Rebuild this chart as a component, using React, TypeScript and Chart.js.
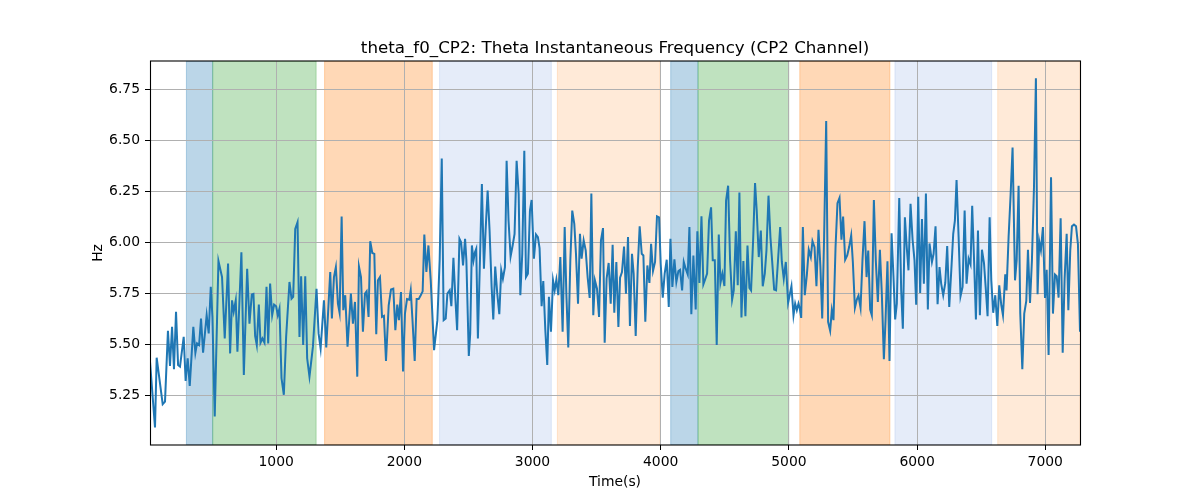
import { useEffect, useRef } from 'react'
import { Chart, registerables } from 'chart.js'

Chart.register(...registerables)

// sample times (s) and instantaneous theta frequency (Hz)
const times = [
  16, 55, 68, 115, 133, 156, 172, 188, 203, 219, 235, 250, 279, 294, 310, 326, 354, 370, 383, 399,
  414, 430, 458, 474, 490, 503, 521, 550, 578, 599, 625, 641, 656, 669, 685, 698, 729, 748, 774, 792,
  810, 823, 836, 849, 865, 878, 893, 909, 925, 938, 953, 969, 984, 1000, 1013, 1026, 1042, 1060, 1078, 1104,
  1120, 1133, 1149, 1167, 1182, 1195, 1211, 1227, 1242, 1260,
  1287, 1315, 1331, 1347, 1373, 1391, 1422, 1435, 1451, 1466, 1482, 1495, 1511, 1524, 1539, 1557, 1583, 1599, 1615, 1633,
  1646, 1662, 1677, 1693, 1706, 1721, 1734, 1750, 1766, 1781, 1794, 1810, 1826, 1841, 1857, 1878, 1896, 1914, 1930, 1945,
  1958, 1974, 1990, 2005, 2021, 2039, 2050, 2063, 2081, 2096, 2112, 2128, 2143, 2156, 2172, 2188, 2206, 2232, 2258, 2276,
  2292, 2307, 2323, 2336, 2354, 2367, 2383, 2399, 2412, 2430, 2443, 2458, 2474, 2484, 2503,
  2514, 2527, 2540, 2551, 2561, 2574, 2590, 2605, 2621, 2634, 2650, 2665, 2681, 2694, 2709, 2725, 2741, 2756, 2769, 2785,
  2798, 2813, 2829, 2845, 2860, 2876, 2892, 2905, 2920, 2936, 2949, 2964, 2980, 2993, 3011, 3027, 3042, 3055, 3071, 3084,
  3100, 3115, 3128, 3144, 3160, 3173, 3186, 3201, 3217, 3235, 3251, 3264, 3279, 3295, 3310, 3326, 3339, 3355, 3370, 3383,
  3399, 3415, 3430, 3446, 3459, 3474, 3487, 3503, 3519, 3534, 3550, 3563, 3578, 3594, 3610, 3625, 3638, 3654, 3670, 3683,
  3698, 3714, 3729, 3745, 3760,
  3776, 3789, 3805, 3821, 3836, 3852, 3865, 3880, 3896, 3912, 3925, 3940, 3956, 3971, 3987, 4000, 4016, 4031, 4047, 4063,
  4076, 4091, 4107, 4122, 4138, 4151, 4167, 4180, 4195, 4211, 4224, 4239, 4255, 4273, 4286, 4302, 4318, 4333, 4346, 4362,
  4377, 4393, 4406, 4422, 4437, 4453, 4466, 4481, 4497, 4510, 4526, 4541, 4557, 4570, 4586, 4601, 4614, 4630, 4645, 4661,
  4677, 4692, 4705, 4721, 4736, 4749, 4765, 4781, 4796, 4812, 4825, 4841, 4856, 4869, 4885, 4900, 4916, 4932, 4945, 4960,
  4976, 4994,
  5020, 5036, 5049, 5062, 5075, 5085, 5096, 5109, 5124, 5140, 5155, 5171, 5184, 5200, 5215, 5231, 5246, 5260, 5275, 5291,
  5306, 5322, 5335, 5348, 5364, 5379, 5395, 5410, 5423, 5439, 5455, 5470, 5486, 5499, 5515, 5530, 5543, 5559, 5574, 5590,
  5606, 5619, 5634, 5647, 5663, 5678, 5694, 5710, 5725, 5741, 5754, 5769, 5785, 5801, 5816, 5829, 5842, 5861, 5876, 5889,
  5905, 5920, 5933, 5949, 5965, 5980, 5993, 6009, 6024, 6038, 6053, 6069, 6084, 6097,
  6116, 6129, 6144, 6160, 6175, 6188, 6204, 6220, 6235, 6251, 6269, 6282, 6295, 6308, 6324, 6339, 6355, 6371, 6386, 6402,
  6417, 6430, 6446, 6459, 6475, 6490, 6506, 6522, 6535, 6550, 6566, 6579, 6594, 6610, 6626, 6641, 6657, 6670, 6688, 6698,
  6714, 6730, 6745, 6764, 6777, 6792, 6805, 6821, 6836, 6852, 6865, 6881, 6896, 6912, 6927, 6940, 6953, 6966, 6982, 6998,
  7011, 7026, 7045, 7060, 7076, 7089, 7104, 7120, 7136, 7151, 7167, 7180, 7195, 7208, 7224, 7240, 7255, 7271,
]

const values = [
  5.415, 5.093, 5.435, 5.207, 5.22, 5.567, 5.394, 5.586, 5.378, 5.66, 5.399, 5.391, 5.537, 5.321, 5.432, 5.297, 5.586, 5.459, 5.505, 5.497,
  5.627, 5.459, 5.643, 5.554, 5.782, 5.635, 5.147, 5.909, 5.83, 5.529, 5.896, 5.456, 5.716, 5.66, 5.716, 5.464, 5.952, 5.35, 5.871, 5.602,
  5.745, 5.748, 5.542, 5.497, 5.695, 5.508, 5.529, 5.508, 5.782, 5.505, 5.798, 5.643, 5.695, 5.687, 5.643, 5.676, 5.334, 5.253, 5.537, 5.806,
  5.724, 5.733, 6.066, 6.099, 5.537, 5.834, 5.497, 5.834, 5.432, 5.342,
  5.489, 5.773, 5.554, 5.48, 5.716, 5.485, 5.855, 5.627, 5.83, 5.879, 5.7, 5.655, 6.127, 5.668, 5.741, 5.489, 5.749, 5.602, 5.708, 5.342,
  5.882, 5.83, 5.562, 5.749, 5.76, 5.635, 6.006, 5.948, 5.944, 5.55, 5.814, 5.83, 5.635, 5.64, 5.419, 5.692, 5.769, 5.773, 5.57, 5.695,
  5.619, 5.757, 5.367, 5.651, 5.722, 5.719, 5.765, 5.627, 5.419, 5.722, 5.722, 5.741, 5.76, 6.039, 5.855, 5.985, 5.814, 5.472, 5.619, 5.92,
  6.411, 5.619, 5.627, 5.749, 5.765, 5.687, 5.925, 5.716, 5.57, 6.018, 6.001, 5.887, 6.018, 5.913, 5.443,
  5.554, 5.985, 5.912, 5.952, 5.969, 5.529, 5.912, 6.286, 5.871, 6.058, 6.254, 6.058, 5.782, 5.622, 5.882, 5.749, 5.648, 5.863, 5.822, 5.879,
  6.4, 6.107, 5.931, 5.985, 6.042, 6.4, 6.237, 5.741, 5.944, 6.449, 5.83, 5.847, 6.156, 6.208, 5.92, 6.039, 6.026, 5.972, 5.687, 5.811,
  5.57, 5.399, 5.733, 5.562, 5.814, 5.765, 5.817, 5.741, 5.928, 5.562, 6.075, 5.749, 5.485, 5.912, 6.156, 6.091, 5.944, 5.7, 6.042, 5.92,
  6.01, 5.961, 5.83, 5.728, 6.24, 5.643, 5.814, 5.773, 5.635, 6.01, 6.07, 5.508, 5.822, 5.899, 5.7, 5.988, 5.655, 5.904, 5.586, 5.827,
  5.855, 5.98, 5.749, 6.026, 5.59,
  5.944, 5.847, 5.541, 5.879, 6.079, 5.944, 5.936, 5.611, 5.887, 5.801, 5.993, 5.86, 5.904, 6.128, 6.123, 5.895, 5.729, 5.847, 5.915, 5.684,
  6.018, 5.782, 5.917, 5.806, 5.86, 5.866, 5.765, 5.904, 5.871, 5.843, 6.075, 5.648, 5.936, 5.671, 6.055, 5.801, 6.128, 5.794, 5.817, 5.847,
  6.107, 6.172, 5.912, 5.912, 5.497, 6.039, 5.801, 5.847, 5.786, 6.205, 6.278, 5.915, 5.719, 5.765, 6.055, 5.79, 6.245, 5.632, 5.909, 5.638,
  5.985, 5.777, 5.765, 6.01, 6.291, 6.156, 5.928, 6.058, 5.785, 5.847, 5.96, 6.229, 6.026, 5.912, 5.769, 5.765, 5.92, 6.075, 5.904, 5.822,
  5.904, 5.704,
  5.785, 5.643, 5.7, 5.668, 5.7, 5.676, 5.63, 6.075, 5.741, 5.839, 5.964, 5.928, 6.006, 5.977, 5.785, 6.062, 5.879, 5.627, 6.029, 6.595,
  5.611, 5.567, 5.668, 5.619, 5.977, 6.192, 6.218, 6.013, 6.127, 5.915, 5.936, 5.977, 6.034, 5.904, 5.679, 5.72, 5.739, 5.679, 5.912, 6.104,
  5.83, 5.96, 5.671, 5.643, 6.208, 5.912, 5.708, 5.964, 5.749, 5.427, 5.619, 5.907, 5.419, 6.045, 5.83, 5.622, 5.7, 6.218, 5.765, 5.577,
  6.123, 5.971, 5.863, 6.189, 6.013, 5.912, 5.695, 6.224, 5.752, 6.115, 5.798, 6.24, 5.671, 5.995,
  5.904, 5.944, 6.079, 5.697, 5.879, 5.798, 5.741, 5.801, 5.982, 5.684, 5.887, 6.042, 6.107, 6.306, 6.026, 5.736, 5.782, 6.156, 5.798, 5.92,
  5.892, 6.18, 5.887, 5.622, 6.058, 5.643, 5.964, 5.899, 5.782, 5.638, 6.123, 5.814, 5.655, 5.741, 5.591, 5.79, 5.692, 5.643, 5.843, 5.765,
  6.026, 6.237, 6.465, 5.814, 5.912, 6.278, 5.651, 5.378, 5.651, 5.713, 5.964, 5.703, 5.912, 6.27, 6.804, 5.746, 6.005, 5.961, 6.075, 5.728,
  5.866, 5.448, 6.319, 5.651, 5.842, 5.834, 5.729, 6.118, 5.459, 5.822, 6.042, 5.668, 5.961, 6.079, 6.087, 6.079, 5.99, 5.562,
]

// shaded epochs (start / end in seconds)
const bandStart = [300, 505, 1378, 2275, 3194, 4078, 4291, 5085, 5827, 6629]
const bandEnd = [505, 1312, 2218, 3147, 3994, 4291, 4999, 5788, 6582, 7272]
const bandColors = [
  'rgba(31,119,180,0.3)',
  'rgba(44,160,44,0.3)',
  'rgba(255,127,14,0.3)',
  'rgba(70,120,210,0.14)',
  'rgba(255,127,14,0.16)',
  'rgba(31,119,180,0.3)',
  'rgba(44,160,44,0.3)',
  'rgba(255,127,14,0.3)',
  'rgba(70,120,210,0.14)',
  'rgba(255,127,14,0.16)',
]

const xTicks = [1000, 2000, 3000, 4000, 5000, 6000, 7000]
const yTicks = [5.25, 5.5, 5.75, 6.0, 6.25, 6.5, 6.75]

const TITLE = 'theta_f0_CP2: Theta Instantaneous Frequency (CP2 Channel)'
const FONT = '"DejaVu Sans", sans-serif'

const decor = {
  id: 'decor',
  beforeDraw(chart: any) {
    const { ctx, chartArea: a, scales } = chart
    const x = scales.x
    ctx.save()
    ctx.beginPath()
    ctx.rect(a.left, a.top, a.right - a.left, a.bottom - a.top)
    ctx.clip()
    bandStart.forEach((s, i) => {
      const x0 = x.getPixelForValue(s)
      const x1 = x.getPixelForValue(bandEnd[i])
      ctx.fillStyle = bandColors[i]
      ctx.fillRect(x0, a.top, x1 - x0, a.bottom - a.top)
      ctx.strokeStyle = bandColors[i]
      ctx.lineWidth = 1
      ctx.strokeRect(x0, a.top, x1 - x0, a.bottom - a.top)
    })
    ctx.restore()
  },
  afterDraw(chart: any) {
    const { ctx, chartArea: a } = chart
    ctx.save()
    ctx.strokeStyle = '#000'
    ctx.lineWidth = 1.1
    ctx.strokeRect(a.left + 0.5, a.top, a.right - a.left, a.bottom - a.top)
    ctx.fillStyle = '#000'
    ctx.textAlign = 'center'
    ctx.textBaseline = 'alphabetic'
    ctx.font = `16.7px ${FONT}`
    ctx.fillText(TITLE, (a.left + a.right) / 2, a.top - 8)
    ctx.font = `13.9px ${FONT}`
    ctx.fillText('Time(s)', (a.left + a.right) / 2, 486)
    ctx.translate(102, (a.top + a.bottom) / 2)
    ctx.rotate(-Math.PI / 2)
    ctx.fillText('Hz', 0, 0)
    ctx.restore()
  },
}

const ThetaChart = () => {
  const canvasRef = useRef<HTMLCanvasElement | null>(null)

  useEffect(() => {
    if (!canvasRef.current) return
    const points = times.map((t, i) => ({ x: t, y: values[i] }))
    const tickFont = { family: FONT, size: 13.9 }
    const chart = new Chart(canvasRef.current, {
      type: 'line',
      data: {
        datasets: [
          {
            data: points,
            borderColor: '#1f77b4',
            borderWidth: 2,
            pointRadius: 0,
            tension: 0,
            fill: false,
          },
        ],
      },
      plugins: [decor],
      options: {
        animation: false,
        responsive: false,
        layout: { padding: { left: 0, right: 120, top: 61, bottom: 0 } },
        plugins: {
          legend: { display: false },
          tooltip: { enabled: false },
        },
        scales: {
          x: {
            type: 'linear',
            min: times[0],
            max: times[times.length - 1],
            afterBuildTicks: (s: any) => {
              s.ticks = xTicks.map((v) => ({ value: v }))
            },
            afterFit: (s: any) => {
              s.height = 55
            },
            grid: { color: '#b0b0b0', lineWidth: 1, tickColor: '#000', tickLength: 5 },
            border: { display: false },
            ticks: {
              color: '#000',
              font: tickFont,
              padding: 4,
              maxRotation: 0,
              autoSkip: false,
              callback: (v: any) => String(v),
            },
          },
          y: {
            type: 'linear',
            min: 5.007,
            max: 6.889,
            afterBuildTicks: (s: any) => {
              s.ticks = yTicks.map((v) => ({ value: v }))
            },
            afterFit: (s: any) => {
              s.width = 150
            },
            grid: { color: '#b0b0b0', lineWidth: 1, tickColor: '#000', tickLength: 5 },
            border: { display: false },
            ticks: {
              color: '#000',
              font: tickFont,
              padding: 5,
              autoSkip: false,
              callback: (v: any) => Number(v).toFixed(2),
            },
          },
        },
      },
    })
    return () => chart.destroy()
  }, [])

  return <canvas ref={canvasRef} width={1200} height={500} style={{ display: 'block' }} />
}

export default function App() {
  return (
    <div style={{ position: 'absolute', left: 0, top: 0, width: 1200, height: 500, background: '#fff' }}>
      <ThetaChart />
    </div>
  )
}
